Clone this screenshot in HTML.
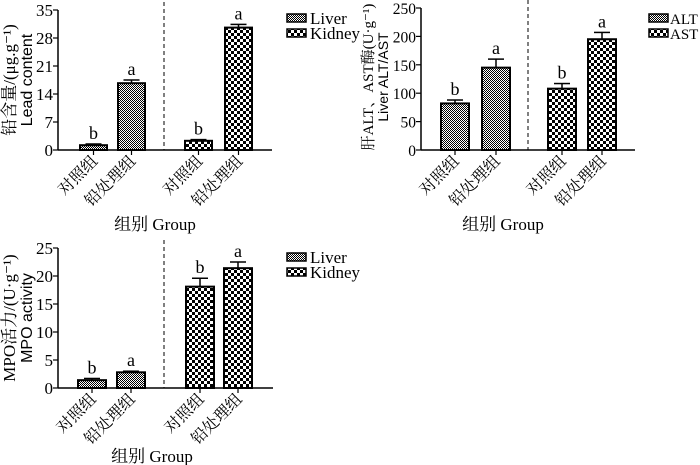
<!DOCTYPE html>
<html><head><meta charset="utf-8"><style>
body{margin:0;background:#fff}
svg{display:block}
text{font-family:"Liberation Serif","Noto Serif CJK SC",serif;fill:#000}
.sans{font-family:"Liberation Sans","Noto Sans CJK SC",sans-serif}
</style></head><body>
<svg id="s" width="700" height="465" viewBox="0 0 700 465">
<defs>
<pattern id="fine" width="2" height="2" patternUnits="userSpaceOnUse"><rect width="2" height="2" fill="#fff"/><rect width="1" height="1" fill="#000"/><rect x="1" y="1" width="1" height="1" fill="#000"/></pattern>
<pattern id="coarse" width="6" height="6" patternUnits="userSpaceOnUse"><rect width="6" height="6" fill="#fff"/><rect width="3" height="3" fill="#000"/><rect x="3" y="3" width="3" height="3" fill="#000"/></pattern>
</defs>
</svg>
<script>
// Chart 1: lead content
const c1Cats=["对照组","铅处理组","对照组","铅处理组"];
const c1Vals=[1.2,16.7,2.3,30.6];
const c1Errs=[0.3,0.8,0.3,0.8];
const c1Sig=["b","a","b","a"];
const c1Ticks=[0,7,14,21,28,35];
const c1Legend=["Liver","Kidney"];
// Chart 2: ALT/AST
const c2Cats=["对照组","铅处理组","对照组","铅处理组"];
const c2Vals=[82,145,108,195];
const c2Errs=[6,15,9,12];
const c2Sig=["b","a","b","a"];
const c2Ticks=[0,50,100,150,200,250];
const c2Legend=["ALT","AST"];
// Chart 3: MPO
const c3Cats=["对照组","铅处理组","对照组","铅处理组"];
const c3Vals=[1.4,2.8,18.1,21.4];
const c3Errs=[0.3,0.2,1.5,1.1];
const c3Sig=["b","a","b","a"];
const c3Ticks=[0,5,10,15,20,25];
const c3Legend=["Liver","Kidney"];

const svg=document.getElementById('s');
const NS='http://www.w3.org/2000/svg';
function mk(tag,at,parent,txt){const e=document.createElementNS(NS,tag);for(const k in at)e.setAttribute(k,at[k]);if(txt!==undefined)e.textContent=txt;(parent||svg).appendChild(e);return e;}

function chart(o){
  const g=mk('g',{});
  
  
  const max=o.ticks[o.ticks.length-1];
  const y=v=>o.y0-(v/max)*(o.y0-o.yTop);
  const ax=mk('line',{x1:o.ax,y1:o.yTop,x2:o.ax,y2:o.y0,stroke:'#000','stroke-width':1.5},g);
  
  
  const xa=mk('line',{x1:o.ax,y1:o.y0,x2:o.axEnd,y2:o.y0,stroke:'#000','stroke-width':1.5},g);
  
  
  o.ticks.forEach(t=>{
    mk('line',{x1:o.ax-5,y1:y(t),x2:o.ax,y2:y(t),stroke:'#000','stroke-width':1.2},g);
    const tl=mk('text',{x:o.ax-5,y:y(t)+6,'text-anchor':'end','font-size':o.tickFs},g,String(t));
    
    
  });
  const d=mk('line',{x1:o.dash,y1:o.yTop-8,x2:o.dash,y2:o.y0,stroke:'#000','stroke-width':1,'stroke-dasharray':'4,3'},g);
  
  
  o.vals.forEach((v,i)=>{
    const x=o.bx[i], w=o.bw;
    const top=y(v), et=y(v+o.errs[i]);
    const cx=x+w/2;
    mk('line',{x1:cx,y1:et,x2:cx,y2:top,stroke:'#000','stroke-width':1.5},g);
    mk('line',{x1:cx-8,y1:et,x2:cx+8,y2:et,stroke:'#000','stroke-width':1.5},g);
    const b=mk('rect',{x:x,y:top,width:w,height:o.y0-top,fill:i<2?'url(#fine)':'url(#coarse)',stroke:'#000','stroke-width':2},g);
    
    
    const s=mk('text',{x:cx,y:et-5,'text-anchor':'middle','font-size':18},g,o.sig[i]);
    
    
    mk('line',{x1:cx,y1:o.y0,x2:cx,y2:o.y0+5,stroke:'#000','stroke-width':1.2},g);
    const lx=cx+5, ly=o.y0+12;
    const l=mk('text',{x:lx,y:ly,'text-anchor':'end','font-size':16,transform:`rotate(-45 ${lx} ${ly})`},g,o.cats[i]);
    
    
  });
  const tx1=o.t1x, tx2=o.t1x+o.tGap, ty=o.tY;
  const t1=mk('text',{x:tx1,y:ty,'text-anchor':'middle','font-size':o.tFs,transform:`rotate(-90 ${tx1} ${ty})`},g,o.title1);
  
  
  const t2=mk('text',{x:tx2,y:ty,'text-anchor':'middle','font-size':o.tFs-1,class:'sans',transform:`rotate(-90 ${tx2} ${ty})`},g,o.title2);
  
  
  const gt=mk('text',{x:o.gX,y:o.gY,'text-anchor':'middle','font-size':17},g,'组别  Group');
  
  
  o.legend.forEach((n,i)=>{
    const ly=o.legY+i*15;
    const r=mk('rect',{x:o.legX,y:ly,width:19,height:8,fill:i?'url(#coarse)':'url(#fine)',stroke:'#000','stroke-width':1.5},g);
    
    
    const t=mk('text',{x:o.legX+o.legGap,y:ly+10,'font-size':o.legFs},g,n);
    
    
  });
}
chart({name:'lead-content-chart',cats:c1Cats,vals:c1Vals,errs:c1Errs,sig:c1Sig,ticks:c1Ticks,legend:c1Legend,
  ax:58,axEnd:272,yTop:10,y0:150,bx:[80,118,185,225],bw:27,dash:164,tickFs:17,tFs:17,tGap:17,
  title1:'铅含量/(μg.g⁻¹)',title2:'Lead content',t1x:15,tY:80,gX:155,gY:230,legX:287,legY:14,legFs:17,legGap:23});
chart({name:'alt-ast-chart',cats:c2Cats,vals:c2Vals,errs:c2Errs,sig:c2Sig,ticks:c2Ticks,legend:c2Legend,
  ax:421,axEnd:635,yTop:8,y0:150,bx:[441,482,548,588],bw:28,dash:528,tickFs:15.5,tFs:15,tGap:15,
  title1:'肝ALT、AST酶(U·g⁻¹)',title2:'Liver ALT/AST',t1x:373,tY:77,gX:503,gY:230,legX:649,legY:14,legFs:15,legGap:21});
chart({name:'mpo-activity-chart',cats:c3Cats,vals:c3Vals,errs:c3Errs,sig:c3Sig,ticks:c3Ticks,legend:c3Legend,
  ax:58,axEnd:273,yTop:248,y0:388,bx:[78,117,186,224],bw:28,dash:164,tickFs:17,tFs:17,tGap:17,
  title1:'MPO活力/(U·g⁻¹)',title2:'MPO activity',t1x:15,tY:318,gX:152,gY:462,legX:287,legY:253,legFs:17,legGap:23});
</script>
</body></html>
